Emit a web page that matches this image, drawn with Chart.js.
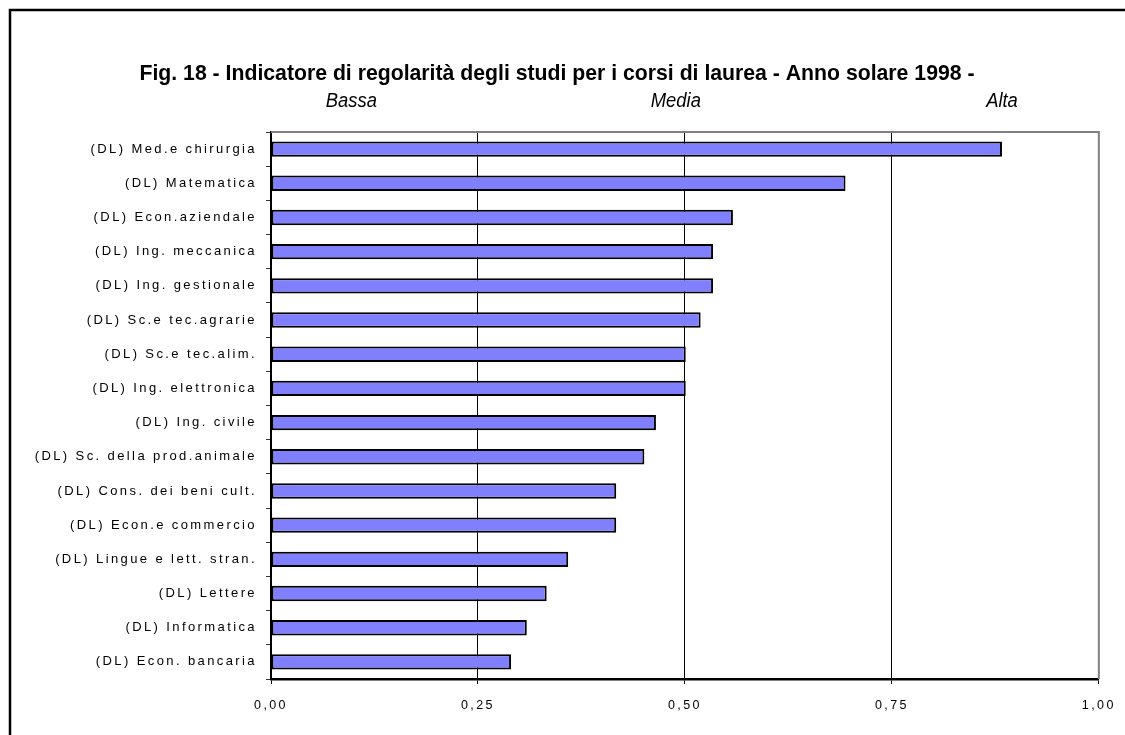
<!DOCTYPE html>
<html>
<head>
<meta charset="utf-8">
<script src="https://cdn.jsdelivr.net/npm/chart.js@4"></script>
<style>
  html, body { margin: 0; padding: 0; background: #fff; }
  #wrap { width: 1125px; height: 735px; position: relative; }
</style>
</head>
<body>
<div id="wrap"><canvas id="regChart"></canvas></div>
<script>
// dati
const corsi = [
    '(DL) Med.e chirurgia',
    '(DL) Matematica',
    '(DL) Econ.aziendale',
    '(DL) Ing. meccanica',
    '(DL) Ing. gestionale',
    '(DL) Sc.e tec.agrarie',
    '(DL) Sc.e tec.alim.',
    '(DL) Ing. elettronica',
    '(DL) Ing. civile',
    '(DL) Sc. della prod.animale',
    '(DL) Cons. dei beni cult.',
    '(DL) Econ.e commercio',
    '(DL) Lingue e lett. stran.',
    '(DL) Lettere',
    '(DL) Informatica',
    '(DL) Econ. bancaria'
];
const indicatore = [0.883, 0.694, 0.558, 0.534, 0.534, 0.519, 0.501, 0.501,
                    0.465, 0.451, 0.417, 0.417, 0.359, 0.333, 0.309, 0.290];
const xTickLabels = ['0,00', '0,25', '0,50', '0,75', '1,00'];
const fasce = ['Bassa', 'Media', 'Alta'];
const titolo = 'Fig. 18 - Indicatore di regolarità degli studi per i corsi di laurea - Anno solare 1998 -';

const labelFont = '"Liberation Sans", Arial, sans-serif';

// testo "stretto": font normale compresso in orizzontale
function narrowText(c, text, cx, cy, squeeze) {
    c.save();
    c.translate(cx, cy);
    c.scale(squeeze, 1);
    c.fillText(text, 0, 0);
    c.restore();
}

// cornice, spaziatura lettere, titolo e fasce
const decorPlugin = {
    id: 'decor',
    beforeDraw(chart) {
        const c = chart.ctx;
        c.save();
        c.strokeStyle = '#000';
        c.lineWidth = 2.5;
        c.beginPath();
        c.moveTo(10, chart.height);
        c.lineTo(10, 10);
        c.lineTo(chart.width, 10);
        c.stroke();
        c.restore();
        c.letterSpacing = '2.4px';
    },
    afterDraw(chart) {
        const c = chart.ctx;
        const a = chart.chartArea;
        const x = chart.scales.x;
        c.letterSpacing = '0px';
        c.save();
        // bordo superiore e destro dell'area del grafico
        c.strokeStyle = '#808080';
        c.lineWidth = 2;
        c.beginPath();
        c.moveTo(a.left, a.top);
        c.lineTo(a.right, a.top);
        c.lineTo(a.right, a.bottom);
        c.stroke();

        c.fillStyle = '#000';
        c.textAlign = 'center';
        c.textBaseline = 'middle';
        c.font = 'bold 22px ' + labelFont;
        const w = c.measureText(titolo).width;
        narrowText(c, titolo, 557, 74, 835 / w);

        c.font = 'italic 20px ' + labelFont;
        const pos = [0.097, 0.489, 0.883];
        fasce.forEach((t, i) => narrowText(c, t, x.getPixelForValue(pos[i]), 101, 0.92));
        c.restore();
    }
};

const ctx = document.getElementById('regChart').getContext('2d');
const regChart = new Chart(ctx, {
    type: 'bar',
    data: {
        labels: corsi,
        datasets: [{
            data: indicatore,
            backgroundColor: '#8080FF',
            borderColor: '#000',
            borderWidth: 2,
            borderSkipped: false,
            barPercentage: 0.45,
            categoryPercentage: 1
        }]
    },
    options: {
        indexAxis: 'y',
        responsive: true,
        maintainAspectRatio: false,
        animation: false,
        layout: { padding: { top: 132, right: 25, left: 0, bottom: 0 } },
        plugins: {
            legend: { display: false },
            title: { display: false },
            tooltip: { enabled: false }
        },
        scales: {
            x: {
                min: 0,
                max: 1,
                ticks: {
                    stepSize: 0.25,
                    color: '#000',
                    padding: 14,
                    font: { family: labelFont, size: 12.5 },
                    callback: (v, i) => xTickLabels[i]
                },
                grid: {
                    color: c => c.tick && (c.tick.value === 0 || c.tick.value === 1) ? 'rgba(0,0,0,0)' : '#000',
                    lineWidth: 1,
                    tickColor: '#000',
                    tickLength: 5
                },
                border: { color: '#000', width: 2.5 },
                afterFit: s => { s.height = 56; }
            },
            y: {
                ticks: {
                    color: '#000',
                    padding: 9,
                    autoSkip: false,
                    font: { family: labelFont, size: 13 }
                },
                grid: {
                    offset: true,
                    drawOnChartArea: false,
                    tickColor: '#333',
                    tickLength: 5
                },
                border: { color: '#000', width: 2 },
                afterFit: s => { s.width = 271; }
            }
        }
    },
    plugins: [decorPlugin]
});
</script>
</body>
</html>
